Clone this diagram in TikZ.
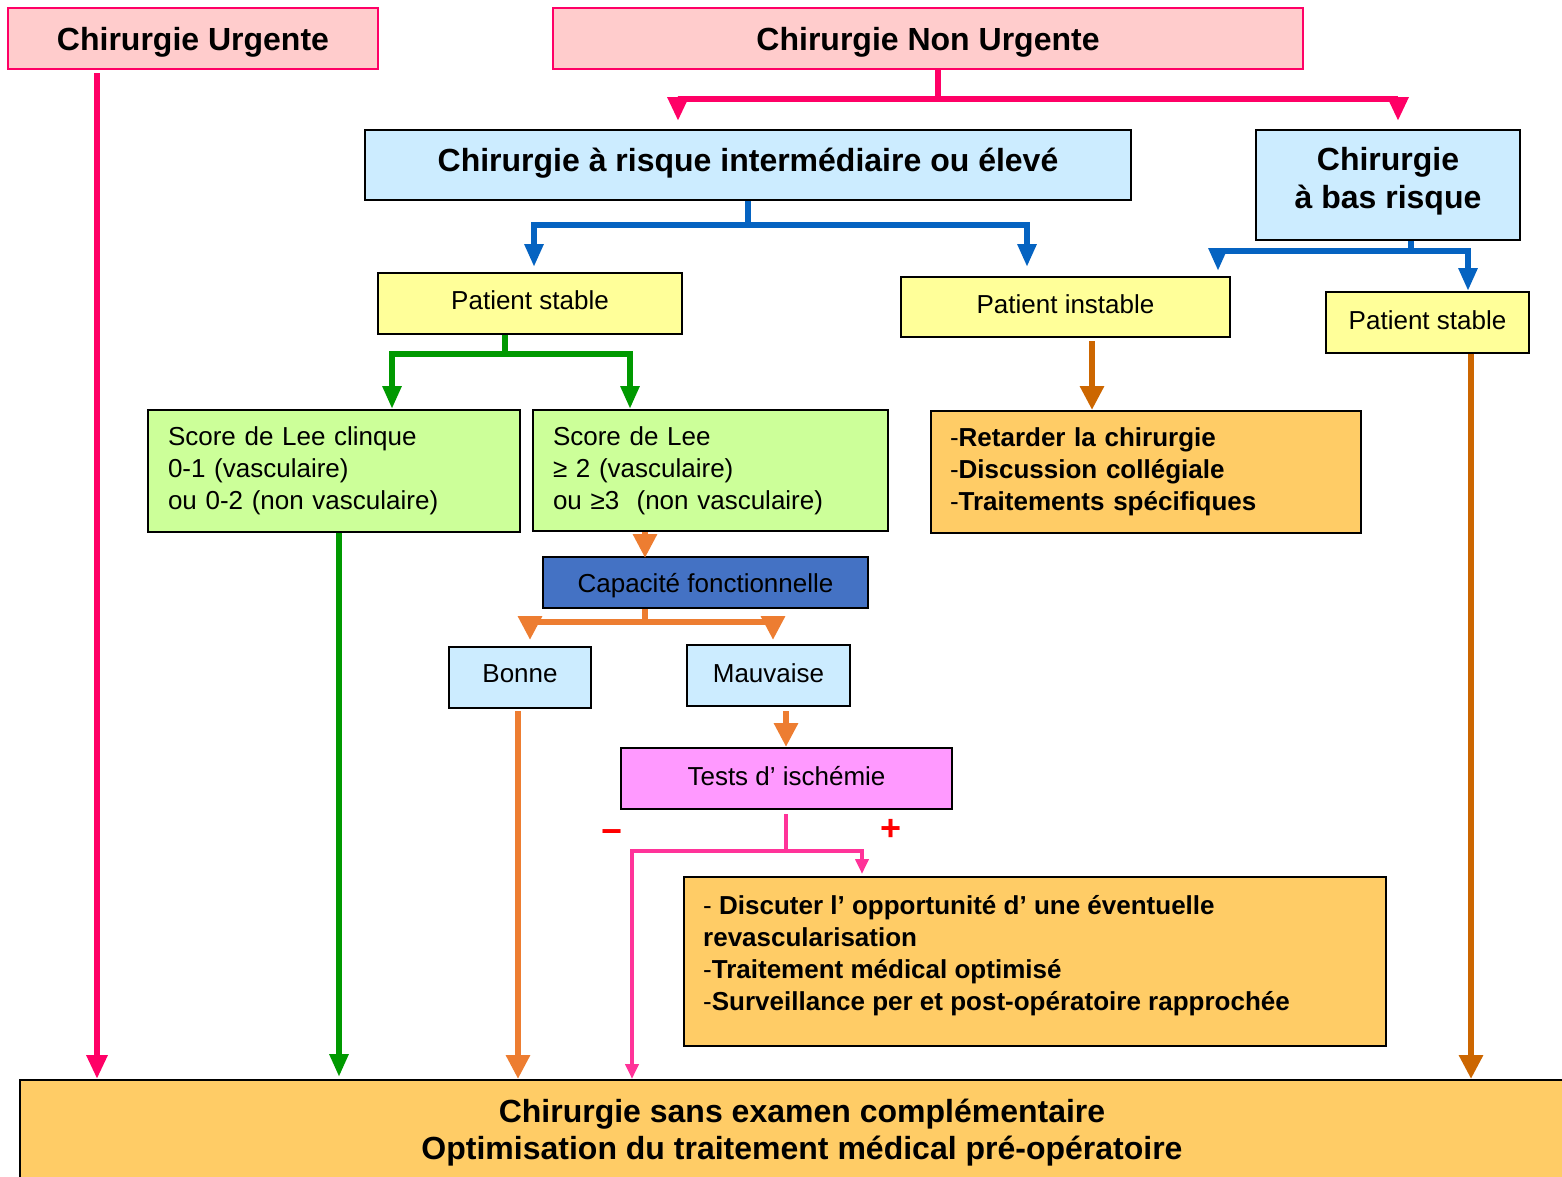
\documentclass[tikz,border=0pt]{standalone}
\usepackage{fontspec}
\setmainfont{Liberation Sans}
\usetikzlibrary{arrows.meta}

\definecolor{tpink}{HTML}{FF0066}
\definecolor{tpinkfill}{HTML}{FFCCCC}
\definecolor{lblue}{HTML}{CCECFF}
\definecolor{bluearr}{HTML}{0563C1}
\definecolor{yel}{HTML}{FFFF99}
\definecolor{lgreen}{HTML}{CCFF99}
\definecolor{greenarr}{HTML}{009900}
\definecolor{orfill}{HTML}{FFCC66}
\definecolor{orarr}{HTML}{ED7D31}
\definecolor{darkor}{HTML}{CC6600}
\definecolor{capblue}{HTML}{4472C4}
\definecolor{tpurple}{HTML}{FF99FF}
\definecolor{thinpink}{HTML}{FF3399}
\definecolor{signred}{HTML}{FF0000}

% move a label vertically without changing the size of its box
\newcommand\nudge[2]{\raisebox{#1}[\height][\depth]{#2}}

\begin{document}
\begin{tikzpicture}[x=1pt,y=-1pt,
  box/.style={draw=black, line width=2pt, rectangle, inner sep=0pt,
    align=center, font=\fontsize{26}{32}\selectfont},
  lbox/.style={box, align=left, inner xsep=20pt},
  titlebox/.style={box, draw=tpink, fill=tpinkfill,
    font=\fontsize{32}{38}\selectfont\bfseries},
  bigbox/.style={box, fill=lblue, font=\fontsize{32}{38}\selectfont\bfseries},
  thick arr/.style={line width=6.5pt, line join=miter,
    -{Triangle[width=20pt,length=24pt]}},
  pkarr/.style={thick arr, draw=tpink},
  blarr/.style={thick arr, draw=bluearr, -{Triangle[width=18pt,length=23pt]}},
  grarr/.style={thick arr, draw=greenarr, -{Triangle[width=18pt,length=23pt]}},
  orarrow/.style={thick arr, draw=orarr, -{Triangle[width=23pt,length=24pt]}},
  dorarr/.style={thick arr, line width=6pt, draw=darkor, -{Triangle[width=23pt,length=24pt]}},
  thinarr/.style={line width=4pt, draw=thinpink, line join=miter,
    -{Triangle[width=13pt,length=15pt]}},
  sign/.style={text=signred, inner sep=0pt, font=\fontsize{36}{36}\selectfont\bfseries}
]
\useasboundingbox (0,0) rectangle (1562,1176);
\clip (0,0) rectangle (1562,1176);

% ---- boxes ----
\node[titlebox, minimum width=370pt, minimum height=61pt] (urg) at (193,38.5) {\nudge{-4pt}{Chirurgie Urgente}};
\node[titlebox, minimum width=750pt, minimum height=61pt] (nonurg) at (928,38.5) {\nudge{-4pt}{Chirurgie Non Urgente}};

\node[bigbox, minimum width=766pt, minimum height=70pt] (inter) at (748,165) {\nudge{2pt}{Chirurgie à risque intermédiaire ou élevé}};
\node[bigbox, minimum width=264pt, minimum height=110pt] (bas) at (1388,185)
  {\nudge{3pt}{\begin{tabular}{@{}c@{}}Chirurgie\\à bas risque\end{tabular}}};

\node[box, fill=yel, minimum width=304pt, minimum height=61pt] (ps1) at (530,303.5) {\nudge{3pt}{Patient stable}};
\node[box, fill=yel, minimum width=329pt, minimum height=60pt] (pinst) at (1065.5,307) {\nudge{3pt}{Patient instable}};
\node[box, fill=yel, minimum width=203pt, minimum height=61pt] (ps2) at (1427.5,322.5) {\nudge{2pt}{Patient stable}};

\node[lbox, fill=lgreen, text width=332pt, minimum height=122pt] (lee1) at (334,471)
  {Score de Lee clinque\\0-1 (vasculaire)\\ou 0-2 (non vasculaire)};
\node[lbox, fill=lgreen, text width=315pt, minimum height=121pt] (lee2) at (710.5,470.5)
  {Score de Lee\\≥ 2 (vasculaire)\\ou ≥3~ (non vasculaire)};
\node[lbox, fill=orfill, inner xsep=19pt, text width=392pt, minimum height=122pt] (retard) at (1146,472)
  {-\textbf{Retarder la chirurgie}\\-\textbf{Discussion collégiale}\\-\textbf{Traitements spécifiques}};

\node[box, fill=capblue, minimum width=325pt, minimum height=51pt] (capa) at (705.5,582.5) {\nudge{-3pt}{Capacité fonctionnelle}};
\node[box, fill=lblue, minimum width=142pt, minimum height=61pt] (bonne) at (520,677.5) {\nudge{4pt}{Bonne}};
\node[box, fill=lblue, minimum width=163pt, minimum height=61pt] (mauv) at (768.5,675.5) {\nudge{2pt}{Mauvaise}};
\node[box, fill=tpurple, minimum width=331pt, minimum height=61pt] (tests) at (786.5,778.5) {\nudge{2pt}{Tests d’ ischémie}};

\node[box, fill=orfill, minimum width=702pt, minimum height=169pt] (disc) at (1035,961.5) {};
\node[anchor=west, align=left, inner sep=0pt, font=\fontsize{26}{32}\selectfont] (disctext) at (703,956)
  {- \textbf{Discuter l’ opportunité d’ une éventuelle}\\\textbf{revascularisation}\\-\textbf{Traitement médical optimisé}\\-\textbf{Surveillance per et post-opératoire rapprochée}};

\node[box, fill=orfill, minimum width=1564pt, minimum height=106pt,
  font=\fontsize{32}{37}\selectfont\bfseries] (bottom) at (802,1133)
  {Chirurgie sans examen complémentaire\\Optimisation du traitement médical pré-opératoire};

\node[sign] (minus) at (612,837) {−};
\node[sign] (plus) at (891,830) {+};

% ---- connectors ----
\draw[pkarr] ([xshift=-96pt,yshift=-3pt]urg.south) -- ([xshift=-705pt]bottom.north);
\draw[pkarr] ([xshift=10pt]nonurg.south) -- ++(0,29) -| ([xshift=-70pt,yshift=8pt]inter.north);
\draw[pkarr] ([xshift=10pt]nonurg.south) -- ++(0,29) -| ([xshift=10pt,yshift=8pt]bas.north);

\draw[blarr] (inter.south) -- ++(0,24) -| ([xshift=4pt,yshift=5pt]ps1.north);
\draw[blarr] (inter.south) -- ++(0,24) -| ([xshift=-38.5pt,yshift=9pt]pinst.north);
\draw[blarr] ([xshift=23pt]bas.south) -- ++(0,10) -| ([xshift=152.5pt,yshift=5pt]pinst.north);
\draw[blarr] ([xshift=23pt]bas.south) -- ++(0,10) -| ([xshift=40.5pt]ps2.north);

\draw[grarr] ([xshift=-25pt]ps1.south) -- ++(0,19) -| ([xshift=58pt]lee1.north);
\draw[grarr] ([xshift=-25pt]ps1.south) -- ++(0,19) -| ([xshift=-80.5pt]lee2.north);
\draw[grarr] ([xshift=5pt]lee1.south) -- ([xshift=-463pt,yshift=2pt]bottom.north);

\draw[orarrow] ([xshift=-65.5pt]lee2.south) -- ++(0,26);
\draw[orarrow] ([xshift=-60.5pt]capa.south) -- ++(0,13) -| ([xshift=10pt,yshift=6pt]bonne.north);
\draw[orarrow] ([xshift=-60.5pt]capa.south) -- ++(0,13) -| ([xshift=4.5pt,yshift=4pt]mauv.north);
\draw[orarrow] ([xshift=-2pt,yshift=-2pt]bonne.south) -- ([xshift=-284pt]bottom.north);
\draw[orarrow] ([xshift=17.5pt,yshift=-4pt]mauv.south) -- ([xshift=-0.5pt]tests.north);

\draw[dorarr] ([xshift=26.5pt,yshift=-3pt]pinst.south) -- ([xshift=-54pt]retard.north);
\draw[dorarr] ([xshift=43.5pt]ps2.south) -- ([xshift=669pt]bottom.north);

\draw[thinarr] ([xshift=-0.5pt,yshift=-4pt]tests.south) -- ++(0,37) -| ([xshift=-173pt,yshift=2pt]disc.north);
\draw[thinarr] ([xshift=-0.5pt,yshift=-4pt]tests.south) -- ++(0,37) -| ([xshift=-170pt]bottom.north);
\end{tikzpicture}
\end{document}
